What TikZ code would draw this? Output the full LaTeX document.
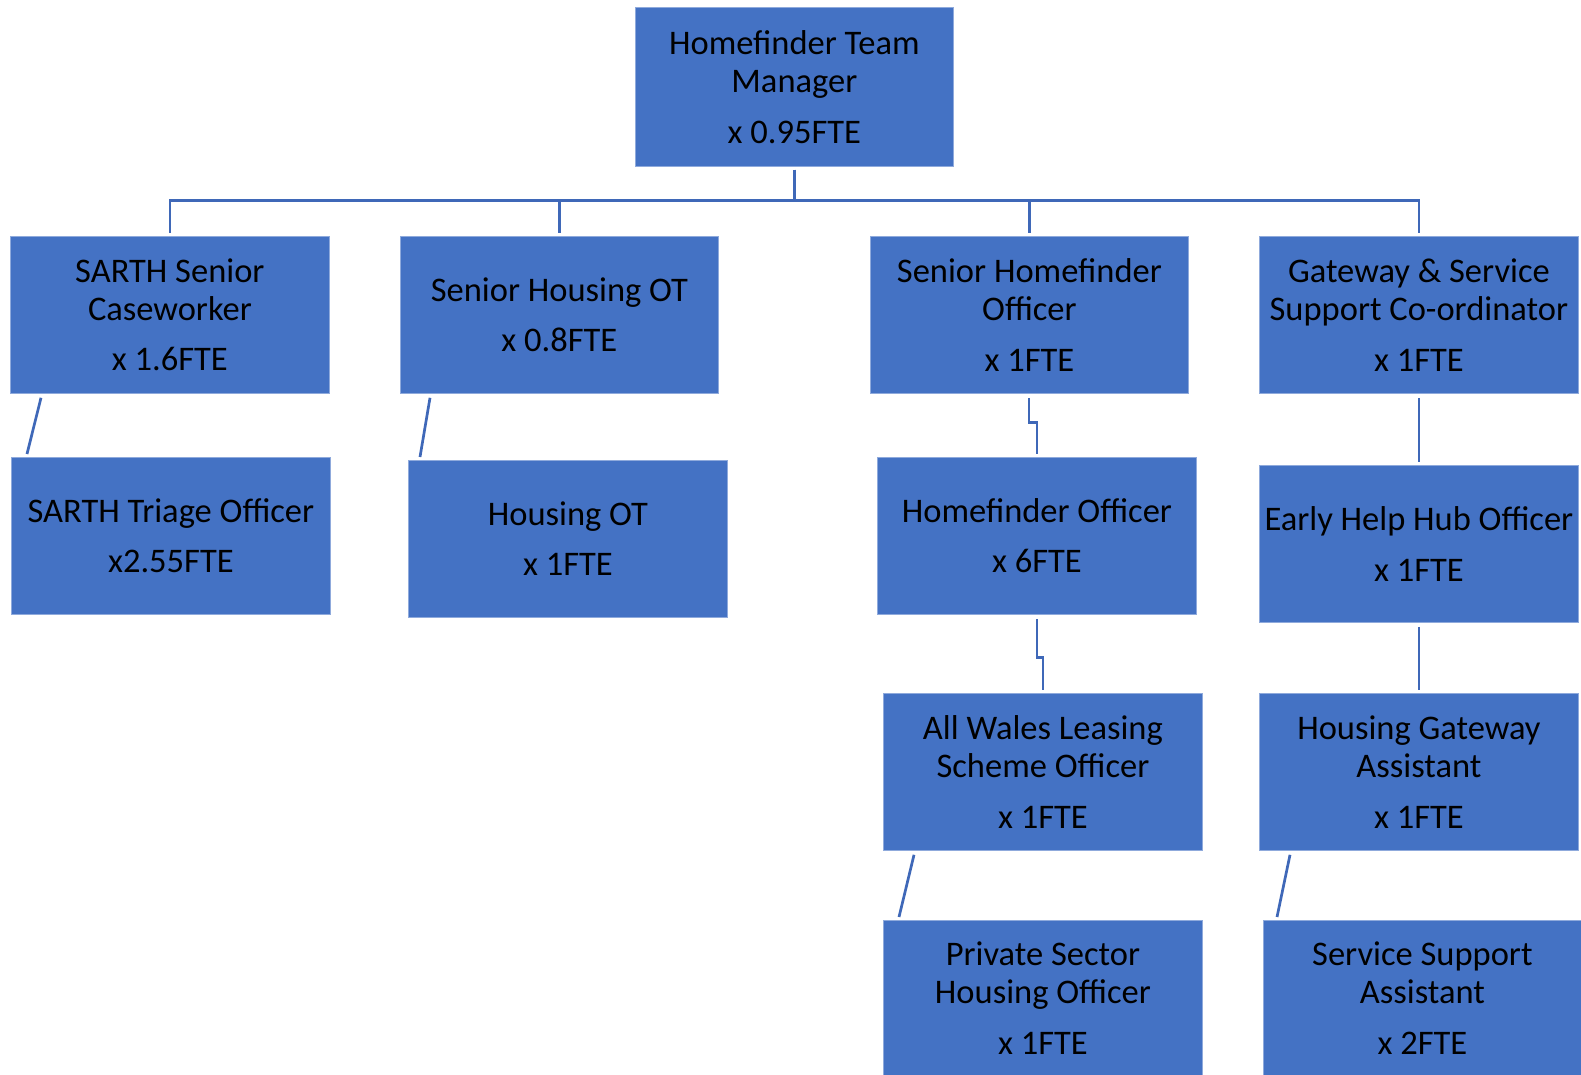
\documentclass[tikz,border=0pt]{standalone}
\usepackage{fontspec}
\setmainfont{Carlito}
\definecolor{boxblue}{HTML}{4472C4}
\definecolor{lineblue}{HTML}{3F68B8}
\definecolor{edgeblue}{HTML}{8FAADC}
\begin{document}
\begin{tikzpicture}[x=1pt,y=-1pt,
  role/.style={rectangle, fill=boxblue, draw=edgeblue, line width=0.8pt, anchor=north west,
    minimum width=319pt, minimum height=157pt, inner sep=0pt, align=center,
    font=\fontsize{34.5}{38.3}\selectfont, text=black},
  link/.style={draw=lineblue, line width=2.7pt}]
\useasboundingbox (0,0) rectangle (1581,1075);
\node[role, minimum width=318pt, minimum height=159pt] (mgr) at (635,7) {Homefinder Team\\Manager\\[12pt]x 0.95FTE};
\node[role] (ssc) at (10,236) {SARTH Senior\\Caseworker\\[12pt]x 1.6FTE};
\node[role, minimum width=318pt] (sho) at (400,236) {Senior Housing OT\\[12pt]x 0.8FTE};
\node[role, minimum width=318pt] (shf) at (870,236) {Senior Homefinder\\Officer\\[12pt]x 1FTE};
\node[role] (gw) at (1259,236) {Gateway \& Service\\Support Co-ordinator\\[12pt]x 1FTE};
\node[role] (sto) at (11,457) {SARTH Triage Officer\\[12pt]x2.55FTE};
\node[role] (hot) at (408,460) {Housing OT\\[12pt]x 1FTE};
\node[role] (hfo) at (877,457) {Homefinder Officer\\[12pt]x 6FTE};
\node[role] (eh) at (1259,465) {Early Help Hub Officer\\[12pt]x 1FTE};
\node[role] (aw) at (883,693) {All Wales Leasing\\Scheme Officer\\[12pt]x 1FTE};
\node[role] (hga) at (1259,693) {Housing Gateway\\Assistant\\[12pt]x 1FTE};
\node[role, minimum height=155pt] (ps) at (883,920) {Private Sector\\Housing Officer\\[12pt]x 1FTE};
\node[role, minimum width=318pt, minimum height=155pt] (ssa) at (1263,920) {Service Support\\Assistant\\[12pt]x 2FTE};
% top tree
\foreach \c in {ssc,sho,shf,gw}{
  \draw[link] ([shift={(0,3)}]mgr.south) -- ++(0,31) -| ([shift={(0,-3)}]\c.north);
}
% slanted links
\draw[link] ([shift={(31,4)}]ssc.south west) -- ([shift={(16,-3)}]sto.north west);
\draw[link] ([shift={(30,4)}]sho.south west) -- ([shift={(12,-3)}]hot.north west);
\draw[link] ([shift={(31,4)}]aw.south west) -- ([shift={(16,-3)}]ps.north west);
\draw[link] ([shift={(31,4)}]hga.south west) -- ([shift={(14,-3)}]ssa.north west);
% stepped links
\draw[link] ([shift={(-0.5,4)}]shf.south) -- ++(0,25) -| ([shift={(0,-3)}]hfo.north);
\draw[link] ([shift={(0,4)}]hfo.south) -- ++(0,39) -| ([shift={(0,-3)}]aw.north);
% straight links
\draw[link] ([shift={(0,4)}]gw.south) -- ([shift={(0,-3)}]eh.north);
\draw[link] ([shift={(0,4)}]eh.south) -- ([shift={(0,-3)}]hga.north);
\end{tikzpicture}
\end{document}
